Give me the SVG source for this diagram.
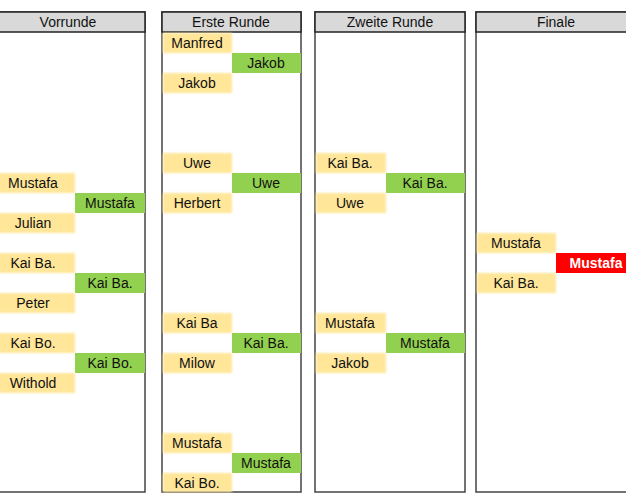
<svg xmlns="http://www.w3.org/2000/svg" width="626" height="504" viewBox="0 0 626 504">
<defs>
<filter id="soft" x="-5%" y="-10%" width="110%" height="120%"><feGaussianBlur stdDeviation="0.8"/></filter>
</defs>
<style>
text{font-family:"Liberation Sans",Arial,sans-serif;font-size:14px;fill:#111;text-anchor:middle;dominant-baseline:central}
.panel{fill:#fff;stroke:#444;stroke-width:1.5}
.head{fill:#d9d9d9;stroke:#222;stroke-width:1.5}
.y{fill:#ffe699;filter:url(#soft)}
.g{fill:#92d050}
.r{fill:#ff0000}
.w{fill:#fff;font-weight:bold}
</style>
<rect width="626" height="504" fill="#fff"/>
<g id="panel-vorrunde">
<rect class="panel" x="-10" y="12" width="155" height="480"/>
<rect class="head" x="-10" y="12" width="155" height="20"/>
<text x="68" y="22">Vorrunde</text>
</g>
<g id="panel-erste">
<rect class="panel" x="162" y="12" width="139" height="480"/>
<rect class="head" x="162" y="12" width="139" height="20"/>
<text x="231" y="22">Erste Runde</text>
</g>
<g id="panel-zweite">
<rect class="panel" x="315" y="12" width="150" height="480"/>
<rect class="head" x="315" y="12" width="150" height="20"/>
<text x="390" y="22">Zweite Runde</text>
</g>
<g id="panel-finale">
<rect class="panel" x="476" y="12" width="160" height="480"/>
<rect class="head" x="476" y="12" width="160" height="20"/>
<text x="556" y="22">Finale</text>
</g>

<g id="v-mustafa"><rect class="y" x="-9" y="173" width="84" height="20"/><text x="33" y="183">Mustafa</text></g>
<g id="v-mustafa-w"><rect class="g" x="75" y="193" width="70" height="20"/><text x="110" y="203">Mustafa</text></g>
<g id="v-julian"><rect class="y" x="-9" y="213" width="84" height="20"/><text x="33" y="223">Julian</text></g>
<g id="v-kaiba"><rect class="y" x="-9" y="253" width="84" height="20"/><text x="33" y="263">Kai Ba.</text></g>
<g id="v-kaiba-w"><rect class="g" x="75" y="273" width="70" height="20"/><text x="110" y="283">Kai Ba.</text></g>
<g id="v-peter"><rect class="y" x="-9" y="293" width="84" height="20"/><text x="33" y="303">Peter</text></g>
<g id="v-kaibo"><rect class="y" x="-9" y="333" width="84" height="20"/><text x="33" y="343">Kai Bo.</text></g>
<g id="v-kaibo-w"><rect class="g" x="75" y="353" width="70" height="20"/><text x="110" y="363">Kai Bo.</text></g>
<g id="v-withold"><rect class="y" x="-9" y="373" width="84" height="20"/><text x="33" y="383">Withold</text></g>

<g id="e-manfred"><rect class="y" x="163" y="33" width="69" height="20"/><text x="197" y="43">Manfred</text></g>
<g id="e-jakob-w"><rect class="g" x="232" y="53" width="69" height="20"/><text x="266" y="63">Jakob</text></g>
<g id="e-jakob"><rect class="y" x="163" y="73" width="69" height="20"/><text x="197" y="83">Jakob</text></g>
<g id="e-uwe"><rect class="y" x="163" y="153" width="69" height="20"/><text x="197" y="163">Uwe</text></g>
<g id="e-uwe-w"><rect class="g" x="232" y="173" width="69" height="20"/><text x="266" y="183">Uwe</text></g>
<g id="e-herbert"><rect class="y" x="163" y="193" width="69" height="20"/><text x="197" y="203">Herbert</text></g>
<g id="e-kaiba"><rect class="y" x="163" y="313" width="69" height="20"/><text x="197" y="323">Kai Ba</text></g>
<g id="e-kaiba-w"><rect class="g" x="232" y="333" width="69" height="20"/><text x="266" y="343">Kai Ba.</text></g>
<g id="e-milow"><rect class="y" x="163" y="353" width="69" height="20"/><text x="197" y="363">Milow</text></g>
<g id="e-mustafa"><rect class="y" x="163" y="433" width="69" height="20"/><text x="197" y="443">Mustafa</text></g>
<g id="e-mustafa-w"><rect class="g" x="232" y="453" width="69" height="20"/><text x="266" y="463">Mustafa</text></g>
<g id="e-kaibo"><rect class="y" x="163" y="473" width="69" height="19"/><text x="197" y="483">Kai Bo.</text></g>

<g id="z-kaiba"><rect class="y" x="316" y="153" width="70" height="20"/><text x="350" y="163">Kai Ba.</text></g>
<g id="z-kaiba-w"><rect class="g" x="386" y="173" width="79" height="20"/><text x="425" y="183">Kai Ba.</text></g>
<g id="z-uwe"><rect class="y" x="316" y="193" width="70" height="20"/><text x="350" y="203">Uwe</text></g>
<g id="z-mustafa"><rect class="y" x="316" y="313" width="70" height="20"/><text x="350" y="323">Mustafa</text></g>
<g id="z-mustafa-w"><rect class="g" x="386" y="333" width="79" height="20"/><text x="425" y="343">Mustafa</text></g>
<g id="z-jakob"><rect class="y" x="316" y="353" width="70" height="20"/><text x="350" y="363">Jakob</text></g>

<g id="f-mustafa"><rect class="y" x="477" y="233" width="79" height="20"/><text x="516" y="243">Mustafa</text></g>
<g id="f-champion"><rect class="r" x="556" y="253" width="80" height="20"/><text class="w" x="596" y="263">Mustafa</text></g>
<g id="f-kaiba"><rect class="y" x="477" y="273" width="79" height="20"/><text x="516" y="283">Kai Ba.</text></g>
</svg>
